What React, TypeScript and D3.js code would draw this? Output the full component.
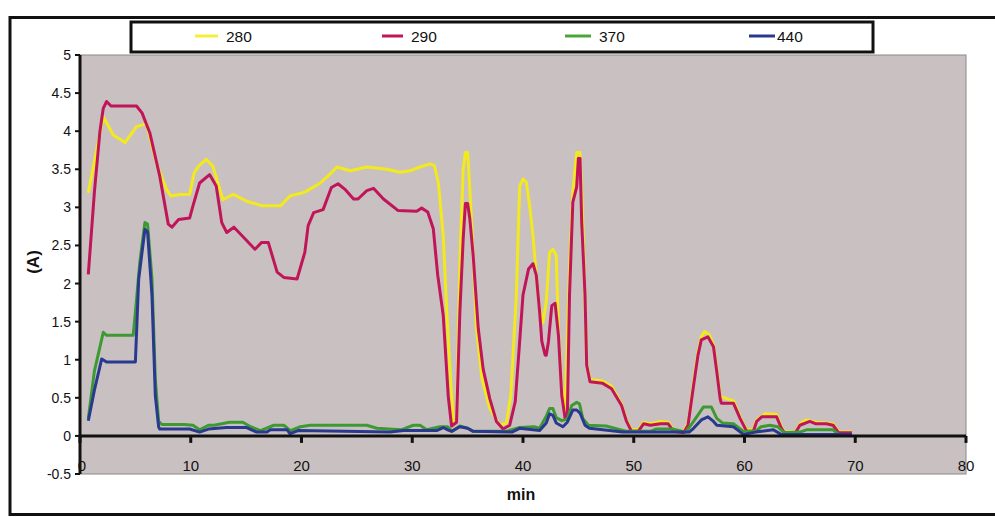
import React, { useEffect, useRef } from 'react';
import * as d3 from 'd3';

// absorbance traces, [minute, value]
const s280: [number, number][] = [
  [0.75, 3.19], [1.3, 3.6], [2.1, 4.19], [3.0, 3.95], [4.06, 3.85], [5.1, 4.06], [6.0, 4.1], [6.9, 3.58],
  [7.8, 3.24], [8.2, 3.15], [9.0, 3.17], [9.9, 3.17], [10.3, 3.45], [10.7, 3.54], [11.4, 3.63], [12.0, 3.54],
  [12.9, 3.1], [13.85, 3.17], [15.05, 3.08], [16.5, 3.02], [18.1, 3.02], [18.96, 3.15], [20.3, 3.2], [21.7, 3.32],
  [22.6, 3.44], [23.2, 3.53], [24.4, 3.48], [25.9, 3.53], [27.7, 3.5], [28.9, 3.46], [29.8, 3.48], [30.7, 3.53],
  [31.6, 3.57], [32.0, 3.55], [32.35, 3.33], [32.8, 2.63], [33.1, 1.67], [33.4, 0.88], [33.7, 0.19], [34.0, 0.19],
  [34.3, 2.28], [34.6, 3.5], [34.8, 3.72], [35.0, 3.72], [35.2, 3.24], [35.5, 2.37], [35.8, 1.41], [36.3, 0.75],
  [37.0, 0.36], [37.9, 0.14], [38.5, 0.17], [38.9, 0.53], [39.4, 1.85], [39.7, 3.28], [40.0, 3.37], [40.3, 3.33],
  [40.6, 3.02], [40.9, 2.63], [41.2, 2.11], [41.5, 1.67], [41.8, 1.49], [42.1, 1.76], [42.4, 2.41], [42.7, 2.45],
  [43.0, 2.37], [43.2, 1.41], [43.5, 0.62], [43.8, 0.32], [44.2, 2.19], [44.5, 3.2], [44.85, 3.72], [45.15, 3.72],
  [45.4, 2.81], [45.75, 0.97], [46.05, 0.74], [47.2, 0.72], [48.0, 0.65], [48.9, 0.42], [49.35, 0.21], [49.8, 0.08],
  [50.4, 0.08], [50.9, 0.18], [51.5, 0.16], [52.4, 0.19], [53.1, 0.18], [53.6, 0.08], [54.5, 0.06], [54.9, 0.16],
  [55.4, 0.7], [55.8, 1.1], [56.1, 1.3], [56.4, 1.37], [56.8, 1.33], [57.2, 1.2], [57.5, 0.88], [57.8, 0.52],
  [58.4, 0.49], [59.0, 0.46], [59.6, 0.25], [60.2, 0.08], [60.8, 0.08], [61.1, 0.21], [61.85, 0.29], [62.9, 0.28],
  [63.3, 0.13], [63.6, 0.05], [64.6, 0.05], [65.0, 0.16], [65.6, 0.21], [66.4, 0.18], [67.4, 0.17], [68.0, 0.16],
  [68.5, 0.05], [69.7, 0.05],
];

const s290: [number, number][] = [
  [0.75, 2.12], [1.3, 3.2], [1.8, 4.0], [2.1, 4.3], [2.4, 4.39], [2.8, 4.33], [5.1, 4.33], [5.6, 4.24],
  [6.3, 3.98], [7.2, 3.41], [7.97, 2.78], [8.3, 2.74], [8.9, 2.84], [9.9, 2.86], [10.2, 3.02], [10.8, 3.32],
  [11.7, 3.43], [12.3, 3.28], [12.8, 2.8], [13.25, 2.67], [13.9, 2.74], [15.8, 2.45], [16.4, 2.54], [17.0, 2.54],
  [17.8, 2.15], [18.4, 2.08], [19.6, 2.06], [20.3, 2.41], [20.6, 2.76], [21.1, 2.93], [21.95, 2.97], [22.7, 3.26],
  [23.3, 3.31], [23.9, 3.24], [24.7, 3.11], [25.1, 3.11], [25.9, 3.22], [26.5, 3.25], [27.4, 3.11], [28.7, 2.96],
  [30.4, 2.95], [30.85, 2.99], [31.4, 2.94], [31.9, 2.72], [32.3, 2.11], [32.8, 1.58], [33.25, 0.52], [33.55, 0.13],
  [34.0, 0.18], [34.3, 1.63], [34.6, 2.59], [34.8, 3.05], [35.0, 3.05], [35.2, 2.85], [35.5, 2.37], [35.96, 1.41],
  [36.4, 0.88], [37.0, 0.49], [37.6, 0.19], [38.2, 0.09], [38.8, 0.14], [39.3, 0.45], [39.7, 1.24], [40.0, 1.85],
  [40.5, 2.19], [40.9, 2.26], [41.2, 2.11], [41.5, 1.63], [41.7, 1.24], [42.0, 1.06], [42.1, 1.06], [42.3, 1.24],
  [42.6, 1.71], [42.9, 1.74], [43.2, 1.32], [43.5, 0.53], [43.8, 0.23], [44.0, 0.23], [44.2, 1.85], [44.5, 3.07],
  [44.85, 3.27], [45.0, 3.64], [45.15, 3.64], [45.3, 2.81], [45.6, 1.85], [45.75, 0.93], [46.05, 0.71], [47.2, 0.69],
  [48.0, 0.62], [48.9, 0.4], [49.35, 0.19], [49.8, 0.06], [50.4, 0.06], [50.9, 0.16], [51.5, 0.14], [52.4, 0.16],
  [53.1, 0.16], [53.6, 0.06], [54.5, 0.04], [54.9, 0.14], [55.4, 0.66], [55.8, 1.06], [56.1, 1.26], [56.7, 1.3],
  [57.2, 1.17], [57.5, 0.84], [57.8, 0.49], [57.9, 0.43], [59.0, 0.43], [59.6, 0.23], [60.2, 0.06], [60.8, 0.06],
  [61.1, 0.19], [61.55, 0.25], [62.9, 0.25], [63.3, 0.11], [63.6, 0.04], [64.6, 0.04], [65.0, 0.14], [65.9, 0.19],
  [66.4, 0.16], [67.4, 0.16], [68.0, 0.14], [68.5, 0.04], [69.7, 0.04],
];

const s370: [number, number][] = [
  [0.75, 0.23], [1.3, 0.85], [2.1, 1.36], [2.4, 1.32], [4.8, 1.32], [5.0, 1.62], [5.4, 2.28], [5.86, 2.8],
  [6.1, 2.78], [6.5, 2.06], [6.8, 0.75], [7.1, 0.19], [7.4, 0.15], [9.4, 0.15], [10.2, 0.14], [10.8, 0.08],
  [11.6, 0.14], [12.1, 0.14], [13.5, 0.18], [14.7, 0.18], [15.4, 0.12], [16.3, 0.07], [17.5, 0.14], [18.4, 0.14],
  [19.0, 0.07], [19.9, 0.12], [20.8, 0.14], [25.9, 0.14], [26.8, 0.1], [29.0, 0.08], [30.1, 0.14], [30.7, 0.14],
  [31.3, 0.08], [32.5, 0.12], [33.2, 0.12], [33.6, 0.06], [34.3, 0.13], [35.0, 0.1], [35.5, 0.06], [38.5, 0.06],
  [39.7, 0.11], [41.0, 0.12], [41.5, 0.1], [42.1, 0.26], [42.4, 0.36], [42.7, 0.36], [43.0, 0.24], [43.5, 0.2],
  [44.0, 0.22], [44.4, 0.4], [44.85, 0.44], [45.1, 0.42], [45.4, 0.23], [45.9, 0.14], [47.5, 0.13], [49.35, 0.06],
  [51.5, 0.06], [52.0, 0.09], [53.5, 0.09], [54.7, 0.05], [55.4, 0.19], [56.3, 0.38], [57.0, 0.38], [57.5, 0.23],
  [58.0, 0.17], [59.0, 0.16], [59.9, 0.06], [61.0, 0.06], [61.5, 0.12], [62.3, 0.14], [63.0, 0.12], [63.6, 0.04],
  [65.0, 0.05], [65.6, 0.08], [68.0, 0.08], [68.5, 0.02], [69.7, 0.02],
];

const s440: [number, number][] = [
  [0.75, 0.2], [1.3, 0.6], [1.96, 1.01], [2.4, 0.97], [5.0, 0.97], [5.3, 2.06], [5.86, 2.71], [6.1, 2.68],
  [6.5, 1.84], [6.8, 0.53], [7.1, 0.12], [7.2, 0.09], [9.9, 0.09], [10.8, 0.05], [11.6, 0.09], [13.2, 0.11],
  [15.05, 0.11], [15.95, 0.05], [16.85, 0.05], [17.2, 0.08], [18.7, 0.08], [18.96, 0.03], [19.7, 0.07], [28.0, 0.05],
  [29.2, 0.07], [32.2, 0.07], [32.8, 0.11], [33.2, 0.08], [33.55, 0.06], [34.3, 0.12], [35.0, 0.1], [35.5, 0.06],
  [39.0, 0.05], [39.7, 0.1], [41.5, 0.07], [42.1, 0.17], [42.4, 0.29], [42.7, 0.27], [43.0, 0.17], [43.6, 0.12],
  [44.0, 0.18], [44.5, 0.34], [44.85, 0.34], [45.15, 0.3], [45.6, 0.14], [46.0, 0.1], [49.0, 0.05], [55.0, 0.05],
  [55.4, 0.1], [56.1, 0.21], [56.7, 0.25], [57.2, 0.19], [57.5, 0.14], [59.0, 0.12], [59.9, 0.02], [61.0, 0.05],
  [62.6, 0.08], [63.3, 0.02], [69.7, 0.02],
];

const seriesNames = ['280', '290', '370', '440'];
const seriesColors = ['#f2ea1c', '#c01558', '#3d9a33', '#2a3990'];
const legendColors = ['#f4ee3a', '#c01558', '#4aa63a', '#2a3990'];
const yTicks = [-0.5, 0, 0.5, 1, 1.5, 2, 2.5, 3, 3.5, 4, 4.5, 5];
const xTicks = [0, 10, 20, 30, 40, 50, 60, 70, 80];

const W = 995;
const H = 517;
const font = '"Liberation Sans", Arial, sans-serif';

export default function App() {
  const svgRef = useRef<SVGSVGElement>(null);

  useEffect(() => {
    const svg = d3.select(svgRef.current);
    svg.selectAll('*').remove();

    const x = d3.scaleLinear().domain([0, 80]).range([80, 966]);
    const y = d3.scaleLinear().domain([-0.5, 5]).range([474, 55]);

    svg.append('rect').attr('width', W).attr('height', H).attr('fill', '#fff');

    // outer frame
    svg.append('rect')
      .attr('x', 10).attr('y', 17.5).attr('width', 1000).attr('height', 497)
      .attr('fill', 'none').attr('stroke', '#111').attr('stroke-width', 3);

    // plot area
    svg.append('rect')
      .attr('x', x(0)).attr('y', y(5))
      .attr('width', x(80) - x(0)).attr('height', y(-0.5) - y(5))
      .attr('fill', '#c9c1c1').attr('stroke', '#8d8787').attr('stroke-width', 1);

    // legend box
    svg.append('rect')
      .attr('x', 131).attr('y', 22).attr('width', 742).attr('height', 30)
      .attr('fill', '#fff').attr('stroke', '#111').attr('stroke-width', 3);

    const legendX = [195, 382, 565, 749];
    const legendW = [23, 21, 26, 26];
    seriesNames.forEach((name, i) => {
      svg.append('line')
        .attr('x1', legendX[i]).attr('x2', legendX[i] + legendW[i])
        .attr('y1', 36).attr('y2', 36)
        .attr('stroke', legendColors[i]).attr('stroke-width', 3);
      svg.append('text')
        .attr('x', legendX[i] + legendW[i] + (i === 3 ? 2 : 8)).attr('y', 41.5)
        .attr('font-family', font).attr('font-size', 15.5).attr('fill', '#111')
        .text(name);
    });

    // series
    const line = d3.line<[number, number]>()
      .x(d => x(d[0]))
      .y(d => y(d[1]))
      .curve(d3.curveLinear);

    [s280, s290, s370, s440].forEach((s, i) => {
      svg.append('path')
        .datum(s)
        .attr('d', line)
        .attr('fill', 'none')
        .attr('stroke', seriesColors[i])
        .attr('stroke-width', 3)
        .attr('stroke-linejoin', 'round');
    });

    // y axis
    svg.append('line')
      .attr('x1', x(0)).attr('x2', x(0)).attr('y1', y(5)).attr('y2', y(-0.5))
      .attr('stroke', '#111').attr('stroke-width', 3);
    yTicks.forEach(t => {
      svg.append('line')
        .attr('x1', x(0) - 5).attr('x2', x(0)).attr('y1', y(t)).attr('y2', y(t))
        .attr('stroke', '#111').attr('stroke-width', 2);
      svg.append('text')
        .attr('x', 71).attr('y', y(t) + 5)
        .attr('text-anchor', 'end')
        .attr('font-family', font).attr('font-size', 14).attr('fill', '#111')
        .text(String(t));
    });

    // x axis
    svg.append('line')
      .attr('x1', x(0)).attr('x2', x(80)).attr('y1', y(0)).attr('y2', y(0))
      .attr('stroke', '#111').attr('stroke-width', 3);
    xTicks.forEach(t => {
      svg.append('line')
        .attr('x1', x(t)).attr('x2', x(t)).attr('y1', y(0)).attr('y2', y(0) + 7)
        .attr('stroke', '#111').attr('stroke-width', 3);
      svg.append('text')
        .attr('x', x(t) + (t === 0 ? 2 : 0)).attr('y', 471)
        .attr('text-anchor', 'middle')
        .attr('font-family', font).attr('font-size', 15).attr('fill', '#111')
        .text(String(t));
    });

    // axis titles
    svg.append('text')
      .attr('transform', `translate(39, 262) rotate(-90)`)
      .attr('text-anchor', 'middle')
      .attr('font-family', font).attr('font-size', 17).attr('font-weight', 'bold').attr('fill', '#111')
      .text('(A)');
    svg.append('text')
      .attr('x', 521).attr('y', 500)
      .attr('text-anchor', 'middle')
      .attr('font-family', font).attr('font-size', 16).attr('font-weight', 'bold').attr('fill', '#111')
      .text('min');
  }, []);

  return (
    <svg
      ref={svgRef}
      width={W}
      height={H}
      style={{ position: 'absolute', left: 0, top: 0, display: 'block' }}
    />
  );
}
